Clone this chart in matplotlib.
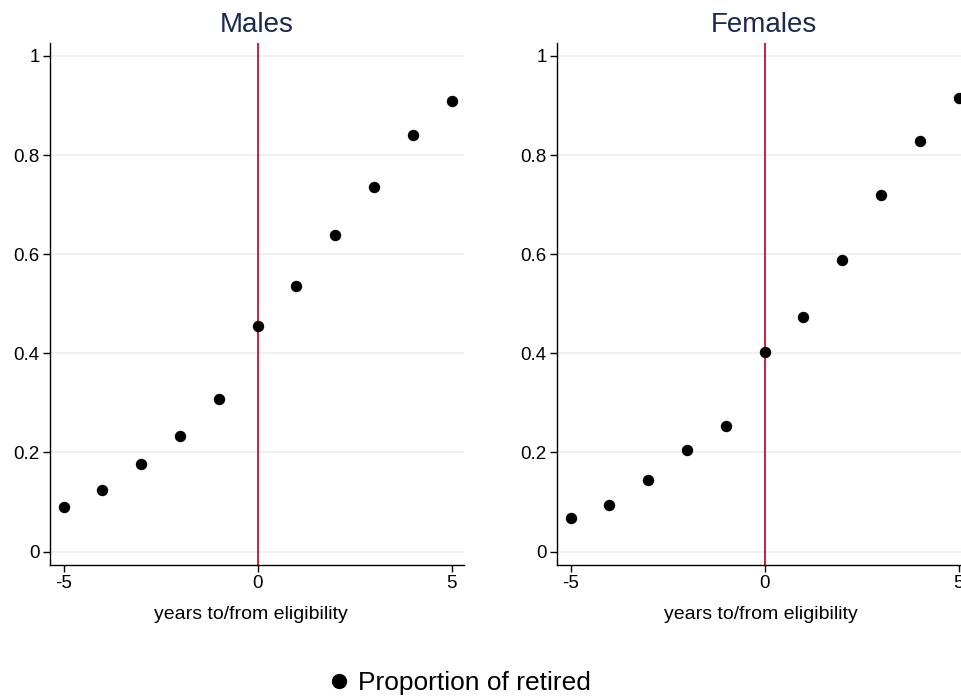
"""Proportion retired by years to/from pension eligibility, males vs females."""
import matplotlib
matplotlib.use("Agg")
import matplotlib.pyplot as plt
from matplotlib.lines import Line2D

YEARS = [-5, -4, -3, -2, -1, 0, 1, 2, 3, 4, 5]
MALES = [0.089, 0.125, 0.176, 0.234, 0.308, 0.455, 0.535, 0.638, 0.736, 0.840, 0.910]
FEMALES = [0.067, 0.095, 0.144, 0.205, 0.254, 0.402, 0.473, 0.589, 0.720, 0.829, 0.916]
YTICKS = [0, 0.2, 0.4, 0.6, 0.8, 1]
YTICK_LABELS = ["0", "0.2", "0.4", "0.6", "0.8", "1"]
XTICKS = [-5, 0, 5]

NAVY, RED, GRID = "#1a2a4f", "#c8102e", "#eaeff3"

plt.rcParams.update({
    "font.family": ["Liberation Sans", "DejaVu Sans"],
    "axes.linewidth": 1.0,
})

W, H = 961, 697
fig = plt.figure(figsize=(W / 100, H / 100), dpi=100)


def panel(left_px, title, vals):
    ax = fig.add_axes([left_px / W, 132 / H, 414 / W, 522 / H])
    ax.set_xlim(-5.35, 5.32)
    ax.set_ylim(-0.027, 1.026)
    ax.set_yticks(YTICKS, YTICK_LABELS)
    ax.set_xticks(XTICKS, ["-5", "0", "5"])
    for y in YTICKS:
        ax.axhline(y, color=GRID, lw=1.2, zorder=0)
    ax.axvline(0, color=RED, lw=1.3, zorder=1)
    ax.plot(YEARS, vals, "o", color="black", ms=7.2, zorder=3)
    for s in ("top", "right"):
        ax.spines[s].set_visible(False)
    ax.tick_params(direction="out", length=5, width=1.0, labelsize=13.5,
                   color="black", pad=2.5)
    ax.set_xlabel("years to/from eligibility", fontsize=14)
    ax.set_title(title, fontsize=20, color=NAVY, pad=8)
    return ax


ax_m = panel(50, "Males", MALES)
ax_f = panel(557, "Females", FEMALES)
ax_m.xaxis.set_label_coords(0.485, -0.079)
ax_f.xaxis.set_label_coords(0.493, -0.079)

handle = Line2D([], [], marker="o", ls="", color="black", ms=10)
fig.legend([handle], ["Proportion of retired"], loc="center",
           bbox_to_anchor=(457 / W, 1 - 683 / H), frameon=False, fontsize=19,
           handletextpad=0.15, handlelength=1.2)

fig.savefig("out.png", dpi=100)
